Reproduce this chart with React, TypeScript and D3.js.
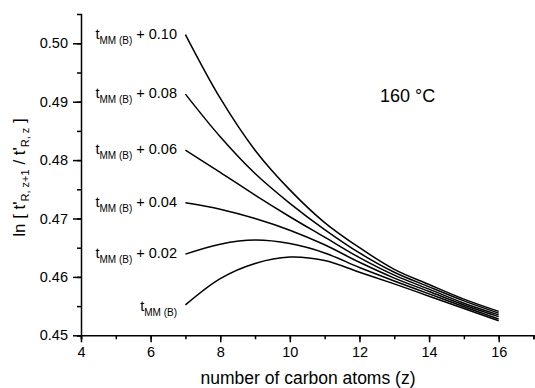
import React, { useRef, useEffect } from "react";
import * as d3 from "d3";

const carbons = [7, 8, 9, 10, 11, 12, 13, 14, 15, 16];
const offsets = ["", "+ 0.02", "+ 0.04", "+ 0.06", "+ 0.08", "+ 0.10"];
const seriesBase = [0.4552, 0.4597, 0.4623, 0.4634, 0.4628, 0.4608, 0.4588, 0.4567, 0.4546, 0.4525];
const series002 = [0.4639, 0.4656, 0.4663, 0.4657, 0.4641, 0.4616, 0.4593, 0.4571, 0.4549, 0.4528];
const series004 = [0.4727, 0.4716, 0.47, 0.468, 0.4655, 0.4625, 0.4598, 0.4575, 0.4552, 0.4532];
const series006 = [0.4817, 0.4779, 0.474, 0.4703, 0.4668, 0.4633, 0.4603, 0.4579, 0.4555, 0.4535];
const series008 = [0.4913, 0.484, 0.4777, 0.4726, 0.4681, 0.4641, 0.4608, 0.4583, 0.4559, 0.4538];
const series010 = [0.5015, 0.4906, 0.4817, 0.4749, 0.4693, 0.465, 0.4613, 0.4587, 0.4562, 0.4541];
const allSeries = [seriesBase, series002, series004, series006, series008, series010];
const xTicks = [4, 6, 8, 10, 12, 14, 16];
const yTicks = [0.45, 0.46, 0.47, 0.48, 0.49, 0.5];

const Chart = () => {
    const ref = useRef<SVGSVGElement | null>(null);

    useEffect(() => {
        document.body.style.margin = "0";
        const svg = d3.select(ref.current);
        svg.selectAll("*").remove();
        const font = "Arial, 'Liberation Sans', sans-serif";

        const x = d3.scaleLinear().domain([4, 17]).range([81, 533.5]);
        const y = d3.scaleLinear().domain([0.45, 0.505]).range([335.3, 14.1]);

        // x axis
        const xa = svg.append("g").attr("transform", `translate(0,${y(0.45)})`);
        xa.call(d3.axisBottom(x).tickValues(d3.range(4, 18, 1)).tickSize(4).tickFormat(() => ""));
        const xb = svg.append("g").attr("transform", `translate(0,${y(0.45)})`);
        xb.call(d3.axisBottom(x).tickValues(xTicks).tickSize(7).tickPadding(4).tickFormat(d3.format("d")));
        xb.select(".domain").remove();

        // y axis
        const ya = svg.append("g").attr("transform", `translate(${x(4)},0)`);
        ya.call(d3.axisLeft(y).tickValues(d3.range(0, 11).map((i) => 0.45 + i * 0.005)).tickSize(4).tickFormat(() => ""));
        const yb = svg.append("g").attr("transform", `translate(${x(4)},0)`);
        yb.call(d3.axisLeft(y).tickValues(yTicks).tickSize(8).tickPadding(5).tickFormat(d3.format(".2f")));
        yb.select(".domain").remove();

        svg.selectAll(".domain, .tick line").attr("stroke", "#000").attr("stroke-width", 1.5);
        svg.selectAll(".tick text").attr("font-family", font).attr("font-size", 14.5).attr("fill", "#000");

        // curves
        const line = d3.line<number>()
            .x((_, i) => x(carbons[i]))
            .y((d) => y(d))
            .curve(d3.curveCatmullRom.alpha(0.5));

        svg.append("g").selectAll("path")
            .data(allSeries)
            .enter()
            .append("path")
            .attr("d", (d) => line(d))
            .attr("fill", "none")
            .attr("stroke", "#000")
            .attr("stroke-width", 1.5);

        // curve labels
        const labels = svg.append("g").attr("font-family", font).attr("fill", "#000");
        allSeries.forEach((s, i) => {
            const t = labels.append("text")
                .attr("x", 177)
                .attr("y", y(s[0]) + (i === 0 ? 6 : 4))
                .attr("text-anchor", "end")
                .attr("font-size", 14.5);
            t.append("tspan").text("t");
            t.append("tspan").attr("font-size", 10).attr("dy", 5).text("MM (B)");
            if (offsets[i]) t.append("tspan").attr("dy", -5).text(" " + offsets[i]);
        });

        svg.append("text")
            .attr("x", 380)
            .attr("y", 102)
            .attr("font-family", font)
            .attr("font-size", 18)
            .text("160 °C");

        svg.append("text")
            .attr("x", 308)
            .attr("y", 384)
            .attr("text-anchor", "middle")
            .attr("font-family", font)
            .attr("font-size", 17.5)
            .text("number of carbon atoms (z)");

        const yl = svg.append("text")
            .attr("transform", "translate(25,177.5) rotate(-90)")
            .attr("text-anchor", "middle")
            .attr("font-family", font)
            .attr("font-size", 17);
        yl.append("tspan").text("ln [ t'");
        yl.append("tspan").attr("font-size", 11).attr("dy", 4).text("R, z+1");
        yl.append("tspan").attr("dy", -4).text(" / t'");
        yl.append("tspan").attr("font-size", 11).attr("dy", 4).text("R, z");
        yl.append("tspan").attr("dy", -4).text(" ]");
    }, []);

    return <svg ref={ref} width={535} height={388} style={{ display: "block", background: "#fff" }} />;
};

export default function App() {
    return <Chart />;
}
